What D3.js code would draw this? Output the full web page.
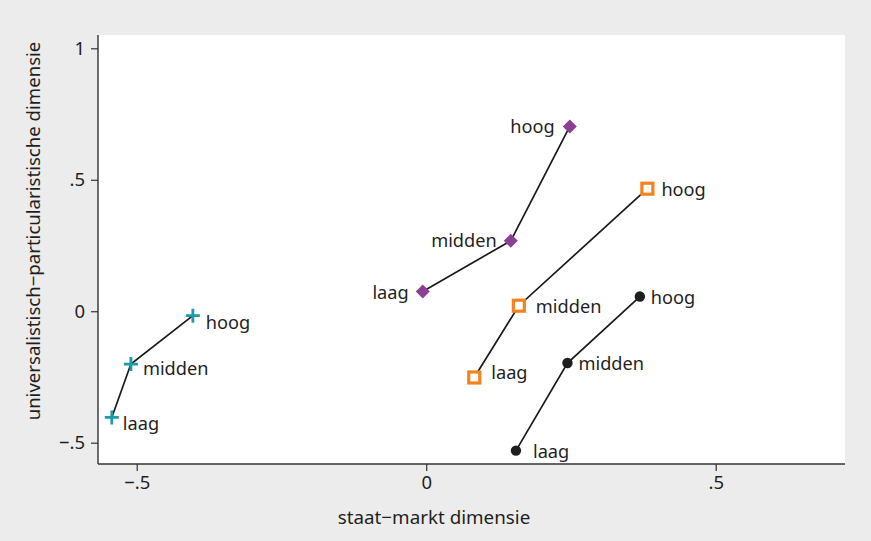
<!DOCTYPE html>
<html>
<head>
<meta charset="utf-8">
<script src="https://cdn.jsdelivr.net/npm/d3@7"></script>
<style>
  html, body { margin: 0; padding: 0; background: #ececec; }
  svg { display: block; font-family: "Noto Sans", "Open Sans", sans-serif; }
</style>
</head>
<body>
<svg id="chart" width="871" height="541"></svg>
<script>
const levels = ["laag", "midden", "hoog"];
const tealX = [-0.543, -0.510, -0.403];
const tealY = [-0.404, -0.201, -0.017];
const purpleX = [-0.006, 0.146, 0.248];
const purpleY = [0.075, 0.268, 0.703];
const orangeX = [0.083, 0.160, 0.382];
const orangeY = [-0.252, 0.021, 0.466];
const blackX = [0.155, 0.244, 0.369];
const blackY = [-0.530, -0.197, 0.056];
const xTicks = [-0.5, 0, 0.5];
const yTicks = [-0.5, 0, 0.5, 1];
const xTickLabels = ["\u2212.5", "0", ".5"];
const yTickLabels = ["\u2212.5", "0", ".5", "1"];

const series = [
  { xs: tealX, ys: tealY, color: "#1c9aa7", shape: "plus", side: "right", dx: [11, 12, 13], dy: [6, 4, 6] },
  { xs: purpleX, ys: purpleY, color: "#8b3f96", shape: "diamond", side: "left", dx: [-14, -14, -15], dy: [0, -1, 0] },
  { xs: orangeX, ys: orangeY, color: "#f5821f", shape: "square", side: "right", dx: [17, 17, 14], dy: [-5, 0, 0] },
  { xs: blackX, ys: blackY, color: "#1e1e1e", shape: "circle", side: "right", dx: [17, 11, 11], dy: [0, 0, 0] }
];

(function () {
const svg = d3.select("#chart");
const pLeft = 98, pRight = 845, pTop = 35, pBottom = 464;
const txt = "#1f1f1f";

const x = d3.scaleLinear().domain([-0.5, 0.5]).range([136.7, 715.7]);
const y = d3.scaleLinear().domain([-0.5, 1]).range([442.7, 48.3]);

svg.append("rect").attr("x", pLeft).attr("y", pTop)
  .attr("width", pRight - pLeft).attr("height", pBottom - pTop).attr("fill", "#ffffff");

const xAxis = d3.axisBottom(x).tickValues(xTicks).tickSize(7).tickPadding(5)
  .tickFormat((d, i) => xTickLabels[i]);
const gx = svg.append("g").attr("transform", `translate(0,${pBottom})`).call(xAxis);
gx.select(".domain").attr("d", `M${pLeft},0H${pRight}`).attr("stroke", "#333").attr("stroke-width", 1.4);
gx.selectAll(".tick line").attr("stroke", "#333").attr("stroke-width", 1.2);
gx.selectAll(".tick text").attr("font-size", 18.5).attr("fill", txt).attr("font-family", "Noto Sans");

const yAxis = d3.axisLeft(y).tickValues(yTicks).tickSize(7).tickPadding(6)
  .tickFormat((d, i) => yTickLabels[i]);
const gy = svg.append("g").attr("transform", `translate(${pLeft},0)`).call(yAxis);
gy.select(".domain").attr("d", `M0,${pTop}V${pBottom}`).attr("stroke", "#333").attr("stroke-width", 1.4);
gy.selectAll(".tick line").attr("stroke", "#333").attr("stroke-width", 1.2);
gy.selectAll(".tick text").attr("font-size", 18.5).attr("fill", txt).attr("font-family", "Noto Sans");

svg.append("text").attr("x", 434).attr("y", 524).attr("text-anchor", "middle")
  .attr("font-size", 18.8).attr("fill", txt).text("staat\u2212markt dimensie");
svg.append("text").attr("transform", "translate(40,231) rotate(-90)").attr("text-anchor", "middle")
  .attr("font-size", 18.6).attr("fill", txt).text("universalistisch\u2212particularistische dimensie");

const line = d3.line().x(d => x(d[0])).y(d => y(d[1]));

series.forEach(s => {
  const pts = s.xs.map((v, i) => [v, s.ys[i]]);
  svg.append("path").attr("d", line(pts)).attr("fill", "none")
    .attr("stroke", "#1a1a1a").attr("stroke-width", 1.7);
});

series.forEach(s => {
  const pts = s.xs.map((v, i) => [v, s.ys[i]]);
  const g = svg.append("g");
  pts.forEach((p, i) => {
    const cx = x(p[0]), cy = y(p[1]);
    if (s.shape === "plus") {
      g.append("path").attr("d", `M${cx - 7},${cy}H${cx + 7}M${cx},${cy - 7}V${cy + 7}`)
        .attr("stroke", s.color).attr("stroke-width", 2.8).attr("fill", "none");
    } else if (s.shape === "diamond") {
      g.append("path").attr("d", `M${cx},${cy - 7}L${cx + 7},${cy}L${cx},${cy + 7}L${cx - 7},${cy}Z`)
        .attr("fill", s.color);
    } else if (s.shape === "square") {
      g.append("rect").attr("x", cx - 5.5).attr("y", cy - 5.5).attr("width", 11).attr("height", 11)
        .attr("fill", "#fff").attr("stroke", s.color).attr("stroke-width", 3.2);
    } else {
      g.append("circle").attr("cx", cx).attr("cy", cy).attr("r", 5.2).attr("fill", s.color);
    }
    g.append("text").attr("x", cx + s.dx[i]).attr("y", cy + s.dy[i])
      .attr("dominant-baseline", "central")
      .attr("text-anchor", s.side === "left" ? "end" : "start")
      .attr("font-size", 18.2).attr("fill", txt).text(levels[i]);
  });
});
})();
</script>
</body>
</html>
